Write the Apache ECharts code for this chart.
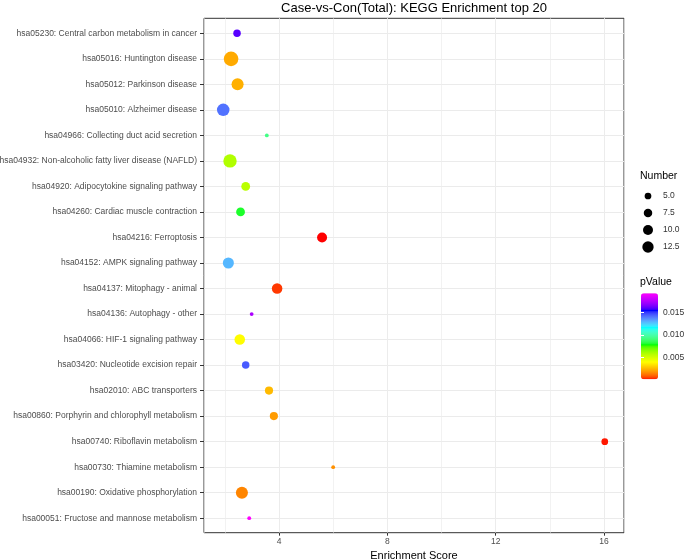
<!DOCTYPE html>
<html>
<head>
<meta charset="utf-8">
<script src="https://cdn.jsdelivr.net/npm/echarts@6/dist/echarts.min.js"></script>
<style>
  html, body { margin: 0; padding: 0; background: #fff; }
  #main { width: 685px; height: 559px; }
</style>
</head>
<body>
<div id="main"></div>
<script>
// KEGG pathways, top to bottom
var categories = [
  'hsa05230: Central carbon metabolism in cancer',
  'hsa05016: Huntington disease',
  'hsa05012: Parkinson disease',
  'hsa05010: Alzheimer disease',
  'hsa04966: Collecting duct acid secretion',
  'hsa04932: Non-alcoholic fatty liver disease (NAFLD)',
  'hsa04920: Adipocytokine signaling pathway',
  'hsa04260: Cardiac muscle contraction',
  'hsa04216: Ferroptosis',
  'hsa04152: AMPK signaling pathway',
  'hsa04137: Mitophagy - animal',
  'hsa04136: Autophagy - other',
  'hsa04066: HIF-1 signaling pathway',
  'hsa03420: Nucleotide excision repair',
  'hsa02010: ABC transporters',
  'hsa00860: Porphyrin and chlorophyll metabolism',
  'hsa00740: Riboflavin metabolism',
  'hsa00730: Thiamine metabolism',
  'hsa00190: Oxidative phosphorylation',
  'hsa00051: Fructose and mannose metabolism'
];
var scores  = [2.45, 2.23, 2.47, 1.94, 3.55, 2.19, 2.77, 2.58, 5.59, 2.13,
               3.93, 2.99, 2.55, 2.77, 3.63, 3.81, 16.03, 6.0, 2.63, 2.90];
var counts  = [6, 20, 14, 15, 2, 17, 8, 8, 10, 12,
               11, 2, 11, 6, 7, 7, 5, 2, 14, 2];
var pValues = [0.0160, 0.0022, 0.0023, 0.0141, 0.0093, 0.0058, 0.0056, 0.0080, 0.0001, 0.0129,
               0.0004, 0.0174, 0.0039, 0.0145, 0.0025, 0.0019, 0.0002, 0.0017, 0.0015, 0.0193];

var xTicks = [4, 8, 12, 16];
var sizeBreaks = [5, 7.5, 10, 12.5];
var pBreaks = [0.005, 0.010, 0.015];
var rainbow = ['#ff0000', '#ffff00', '#00ff00', '#00ffff', '#0000ff', '#ff00ff'];

var pMin = Math.min.apply(null, pValues);
var pMax = Math.max.apply(null, pValues);

function sizeOf(n) {
  return -1.2 + 3.54 * Math.sqrt(n);
}

// colour ramp interpolated in CIE Lab, like ggplot's gradientn
function toLab(hex) {
  var c = [1, 3, 5].map(function (k) {
    var v = parseInt(hex.substr(k, 2), 16) / 255;
    return v <= 0.04045 ? v / 12.92 : Math.pow((v + 0.055) / 1.055, 2.4);
  });
  var X = (0.4124 * c[0] + 0.3576 * c[1] + 0.1805 * c[2]) / 0.95047;
  var Y = 0.2126 * c[0] + 0.7152 * c[1] + 0.0722 * c[2];
  var Z = (0.0193 * c[0] + 0.1192 * c[1] + 0.9505 * c[2]) / 1.08883;
  var f = function (t) { return t > 0.008856 ? Math.cbrt(t) : 7.787 * t + 16 / 116; };
  return [116 * f(Y) - 16, 500 * (f(X) - f(Y)), 200 * (f(Y) - f(Z))];
}
function fromLab(lab) {
  var fy = (lab[0] + 16) / 116, fx = fy + lab[1] / 500, fz = fy - lab[2] / 200;
  var g = function (t) { return t > 0.206893 ? t * t * t : (t - 16 / 116) / 7.787; };
  var X = g(fx) * 0.95047, Y = g(fy), Z = g(fz) * 1.08883;
  var rgb = [
    3.2406 * X - 1.5372 * Y - 0.4986 * Z,
    -0.9689 * X + 1.8758 * Y + 0.0415 * Z,
    0.0557 * X - 0.2040 * Y + 1.0570 * Z
  ].map(function (v) {
    v = v <= 0.0031308 ? 12.92 * v : 1.055 * Math.pow(Math.max(v, 0), 1 / 2.4) - 0.055;
    return Math.round(Math.min(1, Math.max(0, v)) * 255);
  });
  return 'rgb(' + rgb.join(',') + ')';
}
var labStops = rainbow.map(toLab);
var ramp = [];
for (var i = 0; i <= 100; i++) {
  var t = i / 100 * (labStops.length - 1);
  var k = Math.min(Math.floor(t), labStops.length - 2), f = t - k;
  ramp.push(fromLab(labStops[k].map(function (v, j) { return v + (labStops[k + 1][j] - v) * f; })));
}

var xMin = 1.23, xMax = 16.74;
var labelColor = '#4d4d4d';
var font = 'Liberation Sans, Arial, Helvetica, sans-serif';

var myChart = echarts.init(document.getElementById('main'));

var points = categories.map(function (c, i) {
  return [scores[i], c, counts[i], pValues[i]];
});
var sizeData = sizeBreaks.map(function (n, i) {
  return { value: [0, i], symbolSize: sizeOf(n) };
});

option = {
  backgroundColor: '#fff',
  textStyle: { fontFamily: font },
  title: [
    {
      text: 'Case-vs-Con(Total): KEGG Enrichment top 20',
      left: 414, top: 1.5, textAlign: 'center', padding: 0,
      textStyle: { fontSize: 13, fontWeight: 'normal', color: '#000', fontFamily: font }
    },
    {
      text: 'Number', left: 640, top: 171, padding: 0,
      textStyle: { fontSize: 10.5, fontWeight: 'normal', color: '#000', fontFamily: font }
    },
    {
      text: 'pValue', left: 640, top: 277, padding: 0,
      textStyle: { fontSize: 10.5, fontWeight: 'normal', color: '#000', fontFamily: font }
    }
  ],
  grid: [
    // panel frame with vertical grid lines
    { left: 204, right: 61, top: 18.3, bottom: 26.3, show: true, outerBoundsMode: 'none',
      backgroundColor: '#fff', borderColor: '#333', borderWidth: 1 },
    // category rows
    { left: 204, right: 61, top: 33.3, bottom: 40.8, outerBoundsMode: 'none' },
    // size legend
    { left: 640, width: 16, top: 196, height: 51, outerBoundsMode: 'none' },
    // colour bar scale
    { left: 641, width: 17, top: 293.3, height: 86, outerBoundsMode: 'none' }
  ],
  xAxis: [
    {
      gridIndex: 0, type: 'value', min: xMin, max: xMax,
      name: 'Enrichment Score', nameLocation: 'middle', nameGap: 10,
      nameTextStyle: { fontSize: 11, color: '#000', fontFamily: font },
      axisLine: { show: false },
      axisTick: { show: true, length: 3, lineStyle: { color: '#333' }, customValues: xTicks },
      axisLabel: { fontSize: 8.5, color: labelColor, margin: 4, customValues: xTicks },
      splitLine: { show: true, lineStyle: { color: '#ebebeb', width: 1 } }
    },
    {
      // minor + major vertical lines
      gridIndex: 0, type: 'value', min: xMin, max: xMax, splitNumber: 8, position: 'top',
      axisLine: { show: false }, axisTick: { show: false }, axisLabel: { show: false },
      splitLine: { show: true, lineStyle: { color: '#ededed', width: 0.7 } }
    },
    { gridIndex: 1, type: 'value', min: xMin, max: xMax, show: false, splitLine: { show: false } },
    { gridIndex: 2, type: 'value', min: -1, max: 1, show: false, splitLine: { show: false } },
    { gridIndex: 3, type: 'value', min: 0, max: 1, show: false, splitLine: { show: false } }
  ],
  yAxis: [
    { gridIndex: 0, type: 'value', show: false, splitLine: { show: false } },
    {
      gridIndex: 1, type: 'category', data: categories, inverse: true, boundaryGap: false,
      axisLine: { show: false },
      axisTick: { show: true, length: 4, lineStyle: { color: '#333' } },
      axisLabel: { fontSize: 8.5, color: labelColor, margin: 7 },
      splitLine: { show: true, lineStyle: { color: '#ebebeb', width: 1 } }
    },
    {
      gridIndex: 2, type: 'category', data: sizeBreaks.map(function (v) { return v.toFixed(1); }),
      inverse: true, boundaryGap: false, position: 'right',
      axisLine: { show: false }, axisTick: { show: false },
      axisLabel: { fontSize: 8.5, color: '#333', margin: 7 },
      splitLine: { show: false }
    },
    {
      gridIndex: 3, type: 'value', min: pMin, max: pMax, position: 'right', z: 10,
      axisLine: { show: false },
      axisTick: { show: true, inside: true, length: 3, customValues: pBreaks,
                  lineStyle: { color: '#fff', width: 1 } },
      axisLabel: { fontSize: 8.5, color: '#333', margin: 5, customValues: pBreaks,
                   formatter: function (v) { return v.toFixed(3); } },
      splitLine: { show: false }
    },
    {
      gridIndex: 3, type: 'value', min: pMin, max: pMax, position: 'left', z: 10,
      axisLine: { show: false },
      axisTick: { show: true, inside: true, length: 3, customValues: pBreaks,
                  lineStyle: { color: '#fff', width: 1 } },
      axisLabel: { show: false },
      splitLine: { show: false }
    }
  ],
  visualMap: {
    type: 'continuous', seriesIndex: 0, dimension: 3,
    min: pMin, max: pMax, calculable: false, realtime: false,
    left: 641, top: 293.3, itemWidth: 17, itemHeight: 86, padding: 0,
    text: null, showLabel: false, hoverLink: false,
    inRange: { color: ramp }
  },
  series: [
    {
      name: 'KEGG', type: 'scatter', xAxisIndex: 2, yAxisIndex: 1,
      data: points, clip: false, z: 5,
      symbolSize: function (v) { return sizeOf(v[2]); },
      itemStyle: { opacity: 1 }
    },
    {
      name: 'Number', type: 'scatter', xAxisIndex: 3, yAxisIndex: 2,
      data: sizeData, clip: false,
      itemStyle: { color: '#000', opacity: 1 }
    }
  ]
};

myChart.setOption(option);
window.onresize = myChart.resize;
</script>
</body>
</html>
